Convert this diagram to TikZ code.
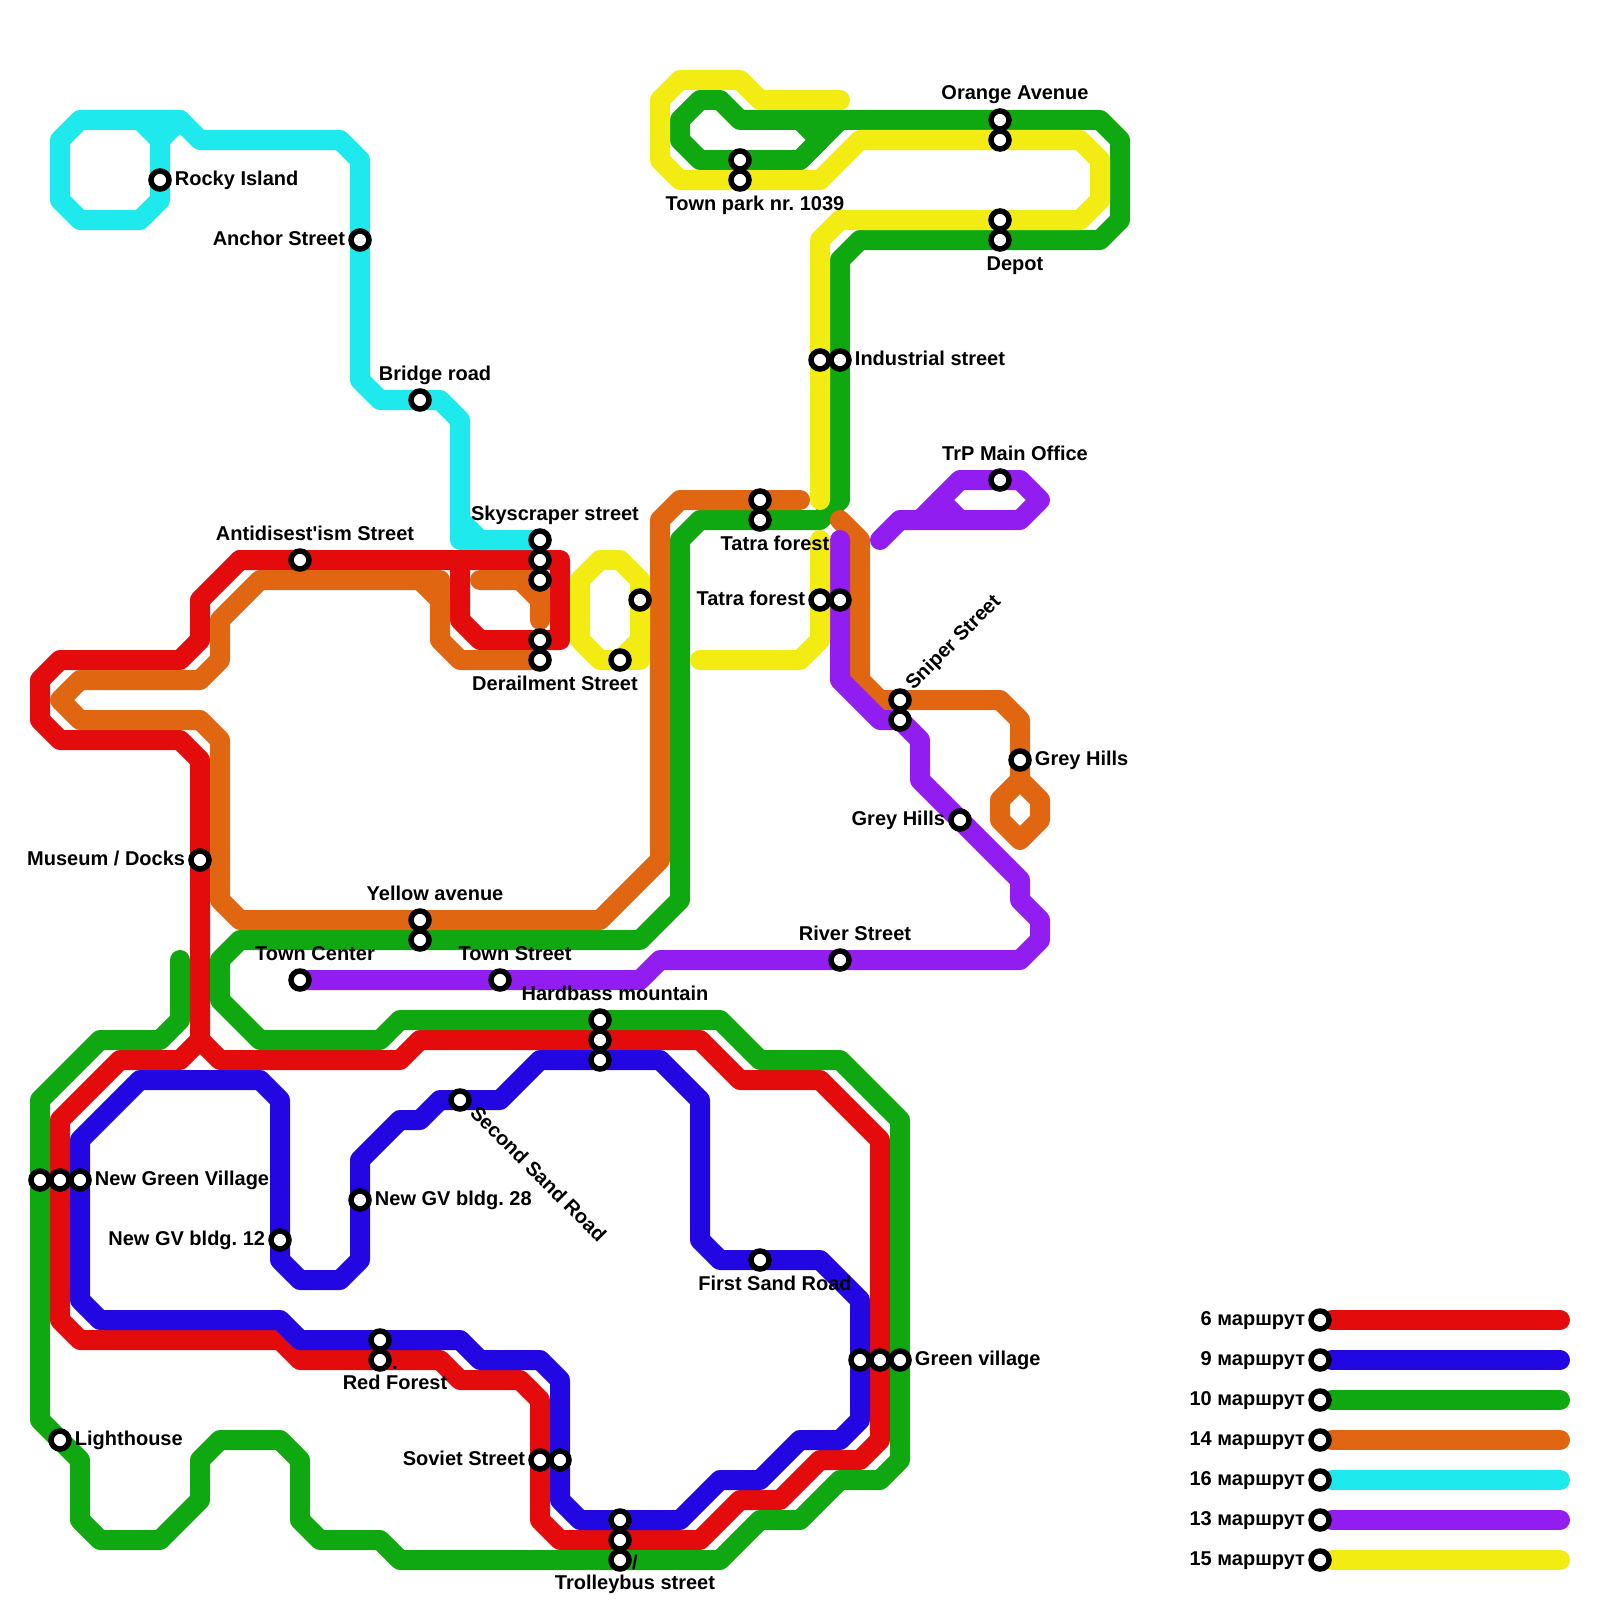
\documentclass[tikz,border=0pt]{standalone}
\usepackage{fontspec}
\setmainfont{Liberation Sans}[Ligatures=TeXOff]
\frenchspacing
\usetikzlibrary{positioning,backgrounds}
\definecolor{linered}{HTML}{E30B0B}
\definecolor{lineblue}{HTML}{2307E2}
\definecolor{linegreen}{HTML}{10A810}
\definecolor{lineorange}{HTML}{E06612}
\definecolor{linecyan}{HTML}{1EEAEE}
\definecolor{linepurple}{HTML}{921DF0}
\definecolor{lineyellow}{HTML}{F2EC13}

\begin{document}
\begin{tikzpicture}[
  x=1pt, y=-1pt,
  ln/.style={line width=20pt, line cap=round, line join=round},
  stn/.style={circle, draw=black, fill=white, line width=5.5pt, minimum size=18pt, inner sep=0pt},
  txt/.style={font=\bfseries\fontsize{20}{20}\selectfont, inner sep=0pt, align=center, text=black},
  lbl/.style={txt, text height=14.4pt, text depth=4.4pt},
  rlbl/.style={lbl, right=3pt of #1},
  llbl/.style={lbl, left=3pt of #1},
]
  \useasboundingbox (0,0) rectangle (1600,1600);

  % Route 6
  \draw[ln, linered] (240,560) -- (200,600) -- (200,640) -- (180,660) -- (60,660) -- (40,680) -- (40,720) -- (60,740) -- (180,740) -- (200,760) -- (200,1040) -- (180,1060) -- (120,1060) -- (60,1120) -- (60,1320) -- (80,1340) -- (280,1340) -- (300,1360) -- (440,1360) -- (460,1380) -- (520,1380) -- (540,1400) -- (540,1520) -- (560,1540) -- (700,1540) -- (740,1500) -- (780,1500) -- (820,1460) -- (860,1460) -- (880,1440) -- (880,1140) -- (820,1080) -- (740,1080) -- (700,1040) -- (420,1040) -- (400,1060) -- (220,1060) -- (200,1040);
  \draw[ln, linered] (240,560) -- (560,560) -- (560,640) -- (480,640) -- (460,620) -- (460,560);

  % Route 9
  \draw[ln, lineblue] (140,1080) -- (260,1080) -- (280,1100) -- (280,1260) -- (300,1280) -- (340,1280) -- (360,1260) -- (360,1160) -- (400,1120) -- (420,1120) -- (440,1100) -- (500,1100) -- (540,1060) -- (660,1060) -- (700,1100) -- (700,1240) -- (720,1260) -- (820,1260) -- (860,1300) -- (860,1420) -- (840,1440) -- (800,1440) -- (760,1480) -- (720,1480) -- (680,1520) -- (580,1520) -- (560,1500) -- (560,1380) -- (540,1360) -- (480,1360) -- (460,1340) -- (300,1340) -- (280,1320) -- (100,1320) -- (80,1300) -- (80,1140) -- cycle;

  % Route 10
  \draw[ln, linegreen] (180,960) -- (180,1020) -- (160,1040) -- (100,1040) -- (40,1100) -- (40,1420) -- (80,1460) -- (80,1520) -- (100,1540) -- (160,1540) -- (200,1500) -- (200,1460) -- (220,1440) -- (280,1440) -- (300,1460) -- (300,1520) -- (320,1540) -- (380,1540) -- (400,1560) -- (720,1560) -- (760,1520) -- (800,1520) -- (840,1480) -- (880,1480) -- (900,1460) -- (900,1120) -- (840,1060) -- (760,1060) -- (720,1020) -- (400,1020) -- (380,1040) -- (260,1040) -- (220,1000) -- (220,960) -- (240,940) -- (640,940) -- (680,900) -- (680,540) -- (700,520) -- (820,520) -- (840,500) -- (840,260) -- (860,240) -- (1100,240) -- (1120,220) -- (1120,140) -- (1100,120) -- (740,120) -- (720,100) -- (700,100) -- (680,120) -- (680,140) -- (700,160) -- (800,160) -- (840,120);
  \draw[ln, linegreen] (800,120) -- (820,140) -- (800,160);

  % Route 14
  \draw[ln, lineorange] (800,500) -- (680,500) -- (660,520) -- (660,860) -- (600,920) -- (240,920) -- (220,900) -- (220,740) -- (200,720) -- (80,720) -- (60,700) -- (80,680) -- (200,680) -- (220,660) -- (220,620) -- (260,580) -- (420,580) -- (440,600) -- (440,640) -- (460,660) -- (540,660);
  \draw[ln, lineorange] (420,580) -- (440,580) -- (440,600);
  \draw[ln, lineorange] (480,580) -- (520,580) -- (540,600) -- (540,620);
  \draw[ln, lineorange] (520,580) -- (540,580) -- (540,600);
  \draw[ln, lineorange] (840,520) -- (860,540) -- (860,680) -- (880,700) -- (1000,700) -- (1020,720) -- (1020,780) -- (1040,800) -- (1040,820) -- (1020,840) -- (1000,820) -- (1000,800) -- (1020,780);

  % Route 16
  \draw[ln, linecyan] (540,540) -- (480,540) -- (460,520) -- (460,420) -- (440,400) -- (380,400) -- (360,380) -- (360,160) -- (340,140) -- (200,140) -- (180,120) -- (80,120) -- (60,140) -- (60,200) -- (80,220) -- (140,220) -- (160,200) -- (160,140) -- (140,120);
  \draw[ln, linecyan] (180,120) -- (160,140);
  \draw[ln, linecyan] (460,520) -- (460,540) -- (540,540);

  % Route 13
  \draw[ln, linepurple] (840,540) -- (840,680) -- (880,720) -- (900,720) -- (920,740) -- (920,780) -- (1020,880) -- (1020,900) -- (1040,920) -- (1040,940) -- (1020,960) -- (660,960) -- (640,980) -- (300,980);
  \draw[ln, linepurple] (880,540) -- (900,520) -- (1020,520) -- (1040,500) -- (1020,480) -- (960,480) -- (920,520);
  \draw[ln, linepurple] (940,500) -- (960,520);

  % Route 15
  \draw[ln, lineyellow] (840,100) -- (760,100) -- (740,80) -- (680,80) -- (660,100) -- (660,160) -- (680,180) -- (820,180) -- (860,140) -- (1080,140) -- (1100,160) -- (1100,200) -- (1080,220) -- (840,220) -- (820,240) -- (820,500);
  \draw[ln, lineyellow] (700,660) -- (800,660) -- (820,640) -- (820,540);
  \draw[ln, lineyellow] (640,640) -- (640,580) -- (620,560) -- (600,560) -- (580,580) -- (580,640) -- (600,660) -- (620,660) -- (640,640);
  \draw[ln, lineyellow] (620,660) -- (640,660) -- (640,640);

  % Stations
  \node[stn] (rocky) at (160,180) {};
  \node[stn] (anchor) at (360,240) {};
  \node[stn] (bridge) at (420,400) {};
  \node[stn] (sky1) at (540,540) {};
  \node[stn] (sky2) at (540,560) {};
  \node[stn] (sky3) at (540,580) {};
  \node[stn] (antidis) at (300,560) {};
  \node[stn] (derail1) at (540,640) {};
  \node[stn] (derail2) at (540,660) {};
  \node[stn] (loop1) at (620,660) {};
  \node[stn] (loop2) at (640,600) {};
  \node[stn] (tatra1) at (760,500) {};
  \node[stn] (tatra2) at (760,520) {};
  \node[stn] (tatra3) at (820,600) {};
  \node[stn] (tatra4) at (840,600) {};
  \node[stn] (indust1) at (820,360) {};
  \node[stn] (indust2) at (840,360) {};
  \node[stn] (orange1) at (1000,120) {};
  \node[stn] (orange2) at (1000,140) {};
  \node[stn] (park1) at (740,160) {};
  \node[stn] (park2) at (740,180) {};
  \node[stn] (depot1) at (1000,220) {};
  \node[stn] (depot2) at (1000,240) {};
  \node[stn] (office) at (1000,480) {};
  \node[stn] (sniper1) at (900,700) {};
  \node[stn] (sniper2) at (900,720) {};
  \node[stn] (grey1) at (1020,760) {};
  \node[stn] (grey2) at (960,820) {};
  \node[stn] (river) at (840,960) {};
  \node[stn] (yellow1) at (420,920) {};
  \node[stn] (yellow2) at (420,940) {};
  \node[stn] (center) at (300,980) {};
  \node[stn] (townst) at (500,980) {};
  \node[stn] (hard1) at (600,1020) {};
  \node[stn] (hard2) at (600,1040) {};
  \node[stn] (hard3) at (600,1060) {};
  \node[stn] (museum) at (200,860) {};
  \node[stn] (sand2) at (460,1100) {};
  \node[stn] (newgv1) at (40,1180) {};
  \node[stn] (newgv2) at (60,1180) {};
  \node[stn] (newgv3) at (80,1180) {};
  \node[stn] (bldg28) at (360,1200) {};
  \node[stn] (bldg12) at (280,1240) {};
  \node[stn] (redf1) at (380,1340) {};
  \node[stn] (redf2) at (380,1360) {};
  \node[stn] (light) at (60,1440) {};
  \node[stn] (soviet1) at (540,1460) {};
  \node[stn] (soviet2) at (560,1460) {};
  \node[stn] (troll1) at (620,1520) {};
  \node[stn] (troll2) at (620,1540) {};
  \node[stn] (troll3) at (620,1560) {};
  \node[stn] (sand1) at (760,1260) {};
  \node[stn] (greenv1) at (860,1360) {};
  \node[stn] (greenv2) at (880,1360) {};
  \node[stn] (greenv3) at (900,1360) {};

  % Labels
  \node[rlbl=rocky] (rockyl) {Rocky Island};
  \node[llbl=anchor] (anchorl) {Anchor Street};
  \node[lbl] (bridgel) at (435,375) {Bridge road};
  \node[lbl] (skyl) at (555,515) {Skyscraper street};
  \node[lbl] (antidisl) at (315,535) {Antidisest'ism Street};
  \node[lbl] (derail) at (555,685) {Derailment Street};
  \node[lbl] (tatral) at (775,545) {Tatra forest};
  \node[llbl=tatra3] (tatra3l) {Tatra forest};
  \node[rlbl=indust2] (industl) {Industrial street};
  \node[lbl] (orangel) at (1015,95) {Orange Avenue};
  \node[lbl] (parkl) at (755,205) {Town park nr. 1039};
  \node[lbl] (depotl) at (1015,265) {Depot};
  \node[lbl] (officel) at (1015,455) {TrP Main Office};
  \node[lbl, rotate=45] (sniperl) at (954,643) {Sniper Street};
  \node[rlbl=grey1] (grey1l) {Grey Hills};
  \node[llbl=grey2] (grey2l) {Grey Hills};
  \node[lbl] (riverl) at (855,935) {River Street};
  \node[lbl] (yellowl) at (435,895) {Yellow avenue};
  \node[lbl] (centerl) at (315,955) {Town Center};
  \node[lbl] (townstl) at (515,955) {Town Street};
  \node[lbl] (hardl) at (615,995) {Hardbass mountain};
  \node[llbl=museum] (museuml) {Museum / Docks};
  \node[lbl, rotate=-45] (sand2l) at (537,1175) {Second Sand Road};
  \node[rlbl=newgv3] (newgvl) {New Green Village};
  \node[rlbl=bldg28] (bldg28l) {New GV bldg. 28};
  \node[llbl=bldg12] (bldg12l) {New GV bldg. 12};
  \node[txt, anchor=south] (redfl) at (395,1390) {.\\Red Forest};
  \node[rlbl=light] (lightl) {Lighthouse};
  \node[llbl=soviet1] (sovietl) {Soviet Street};
  \node[txt, anchor=south] (trolll) at (635,1594) {/\\Trolleybus street};
  \node[lbl] (sand1l) at (775,1285) {First Sand Road};
  \node[rlbl=greenv3] (greenvl) {Green village};

  % Legend
  \node[stn] (leg6) at (1320,1320) {};
  \node[stn] (leg9) at (1320,1360) {};
  \node[stn] (leg10) at (1320,1400) {};
  \node[stn] (leg14) at (1320,1440) {};
  \node[stn] (leg16) at (1320,1480) {};
  \node[stn] (leg13) at (1320,1520) {};
  \node[stn] (leg15) at (1320,1560) {};
  \coordinate (end6) at (1560,1320);
  \coordinate (end9) at (1560,1360);
  \coordinate (end10) at (1560,1400);
  \coordinate (end14) at (1560,1440);
  \coordinate (end16) at (1560,1480);
  \coordinate (end13) at (1560,1520);
  \coordinate (end15) at (1560,1560);
  \node[llbl=leg6] (leg6l) {6 маршрут};
  \node[llbl=leg9] (leg9l) {9 маршрут};
  \node[llbl=leg10] (leg10l) {10 маршрут};
  \node[llbl=leg14] (leg14l) {14 маршрут};
  \node[llbl=leg16] (leg16l) {16 маршрут};
  \node[llbl=leg13] (leg13l) {13 маршрут};
  \node[llbl=leg15] (leg15l) {15 маршрут};
  \begin{scope}[on background layer]
    \draw[ln, linered] (leg6) -- (end6);
    \draw[ln, lineblue] (leg9) -- (end9);
    \draw[ln, linegreen] (leg10) -- (end10);
    \draw[ln, lineorange] (leg14) -- (end14);
    \draw[ln, linecyan] (leg16) -- (end16);
    \draw[ln, linepurple] (leg13) -- (end13);
    \draw[ln, lineyellow] (leg15) -- (end15);
  \end{scope}
\end{tikzpicture}
\end{document}
